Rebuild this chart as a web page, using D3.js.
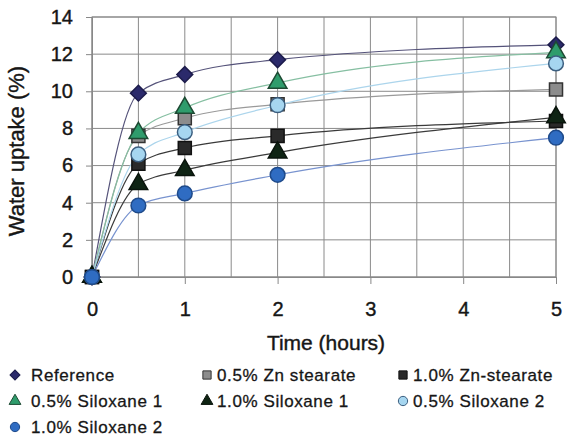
<!DOCTYPE html>
<html>
<head>
<meta charset="utf-8">
<script src="https://cdn.jsdelivr.net/npm/d3@7"></script>
<style>
  body { margin: 0; background: #fff; }
  text { font-family: "Liberation Sans", Arial, sans-serif; fill: #161616; }
</style>
</head>
<body>
<script>
// sampling times (hours)
var times = [0, 0.5, 1, 2, 5];

// water uptake (%)
var reference   = [0, 9.9, 10.9, 11.7, 12.5];
var zn05        = [0, 7.6, 8.55, 9.3, 10.1];
var zn10        = [0, 6.1, 6.95, 7.6, 8.4];
var silox1_05   = [0, 7.75, 9.1, 10.45, 12.1];
var silox1_10   = [0, 5.0, 5.75, 6.7, 8.6];
var silox2_05   = [0, 6.6, 7.8, 9.25, 11.5];
var silox2_10   = [0, 3.85, 4.5, 5.5, 7.5];

var yTicks = [0, 2, 4, 6, 8, 10, 12, 14];
var xTicks = [0, 1, 2, 3, 4, 5];

var series = [
  {name: "Reference",          values: reference, shape: "diamond",  fill: "#2b2a6b", stroke: "#1c1b4a", line: "#55537a"},
  {name: "0.5% Zn stearate",   values: zn05,      shape: "square",   fill: "#8c8c8c", stroke: "#333",    line: "#9a9a9a"},
  {name: "1.0% Zn-stearate",   values: zn10,      shape: "square",   fill: "#2a2a2a", stroke: "#111",    line: "#3a3a3a"},
  {name: "0.5% Siloxane 1",    values: silox1_05, shape: "triangle", fill: "#2f9c6c", stroke: "#1d4a33", line: "#86bfa2"},
  {name: "1.0% Siloxane 1",    values: silox1_10, shape: "triangle", fill: "#0f2414", stroke: "#0a140c", line: "#3b3b3b"},
  {name: "0.5% Siloxane 2",    values: silox2_05, shape: "circle",   fill: "#a6d6f0", stroke: "#3c5f80", line: "#acd5ec"},
  {name: "1.0% Siloxane 2",    values: silox2_10, shape: "circle",   fill: "#2f6cc2", stroke: "#1e4a8a", line: "#7893cf"}
];

var w = 573, h = 437;
var svg = d3.select("body").append("svg")
  .attr("width", w).attr("height", h);

var x = d3.scaleLinear().domain([0, 5]).range([92, 556]);
var y = d3.scaleLinear().domain([0, 14]).range([277, 17]);

// grid
svg.append("g").selectAll("line")
  .data(d3.range(0, 5.01, 0.5))
  .enter().append("line")
  .attr("x1", d => x(d)).attr("x2", d => x(d))
  .attr("y1", y(0)).attr("y2", y(14))
  .attr("stroke", "#8a8a8a").attr("stroke-width", 1);

svg.append("g").selectAll("line")
  .data(yTicks)
  .enter().append("line")
  .attr("x1", x(0)).attr("x2", x(5))
  .attr("y1", d => y(d)).attr("y2", d => y(d))
  .attr("stroke", "#8a8a8a").attr("stroke-width", 1);

svg.append("rect")
  .attr("x", x(0)).attr("y", y(14))
  .attr("width", x(5) - x(0)).attr("height", y(0) - y(14))
  .attr("fill", "none").attr("stroke", "#888");

// axes
var yAxis = svg.append("g")
  .attr("transform", "translate(" + x(0) + ",0)")
  .call(d3.axisLeft(y).tickValues(yTicks).tickSize(6).tickPadding(13));
var xAxis = svg.append("g")
  .attr("transform", "translate(0," + y(0) + ")")
  .call(d3.axisBottom(x).tickValues(xTicks).tickFormat(d3.format("d")).tickSize(7).tickPadding(18));

[yAxis, xAxis].forEach(function(g) {
  g.select(".domain").attr("stroke", "#888");
  g.selectAll(".tick line").attr("stroke", "#888");
  g.selectAll(".tick text")
    .style("font-size", "20px")
    .style("font-family", "'Liberation Sans', Arial, sans-serif")
    .attr("fill", "#161616")
    .attr("stroke", "#161616").attr("stroke-width", 0.4);
});

// curves
var line = d3.line()
  .x((d, i) => x(times[i]))
  .y(d => y(d))
  .curve(d3.curveMonotoneX);

svg.append("g").selectAll("path")
  .data(series)
  .enter().append("path")
  .attr("d", d => line(d.values))
  .attr("fill", "none")
  .attr("stroke", d => d.line)
  .attr("stroke-width", 1.2);

function symbolFor(shape, size) {
  var t = {diamond: d3.symbolSquare, square: d3.symbolSquare,
           triangle: d3.symbolTriangle, circle: d3.symbolCircle}[shape];
  return d3.symbol().type(t).size(size)();
}
var sizes = {diamond: 125, square: 170, triangle: 150, circle: 170};
function rot(shape) { return shape === "diamond" ? " rotate(45)" : ""; }

// markers
series.forEach(function(s) {
  svg.append("g").selectAll("path")
    .data(s.values)
    .enter().append("path")
    .attr("transform", (d, i) => "translate(" + x(times[i]) + "," + y(d) + ")" + rot(s.shape))
    .attr("d", symbolFor(s.shape, sizes[s.shape]))
    .attr("fill", s.fill)
    .attr("stroke", s.stroke)
    .attr("stroke-width", 1.5);
});

// axis titles
svg.append("text")
  .attr("x", 326).attr("y", 350)
  .attr("text-anchor", "middle")
  .style("font-size", "21px")
  .attr("stroke", "#161616").attr("stroke-width", 0.4)
  .text("Time (hours)");

svg.append("text")
  .attr("transform", "translate(24,151) rotate(-90)")
  .attr("text-anchor", "middle")
  .style("font-size", "22px")
  .attr("stroke", "#161616").attr("stroke-width", 0.4)
  .text("Water uptake (%)");

// legend
var legendPos = [
  [15, 375], [207, 375], [403, 375],
  [15, 401], [207, 401], [403, 401],
  [15, 427]
];
var lg = svg.append("g").selectAll("g")
  .data(series)
  .enter().append("g")
  .attr("transform", (d, i) => "translate(" + legendPos[i][0] + "," + legendPos[i][1] + ")");

lg.append("path")
  .attr("transform", d => "translate(0,0)" + rot(d.shape))
  .attr("d", d => symbolFor(d.shape, sizes[d.shape] * 0.4))
  .attr("fill", d => d.fill)
  .attr("stroke", d => d.stroke)
  .attr("stroke-width", 1);

lg.append("text")
  .attr("x", (d, i) => i % 3 === 0 ? 16 : 10)
  .attr("dy", "0.36em")
  .style("font-size", "17px")
  .style("letter-spacing", "0.6px")
  .attr("stroke", "#161616").attr("stroke-width", 0.3)
  .text(d => d.name);
</script>
</body>
</html>
